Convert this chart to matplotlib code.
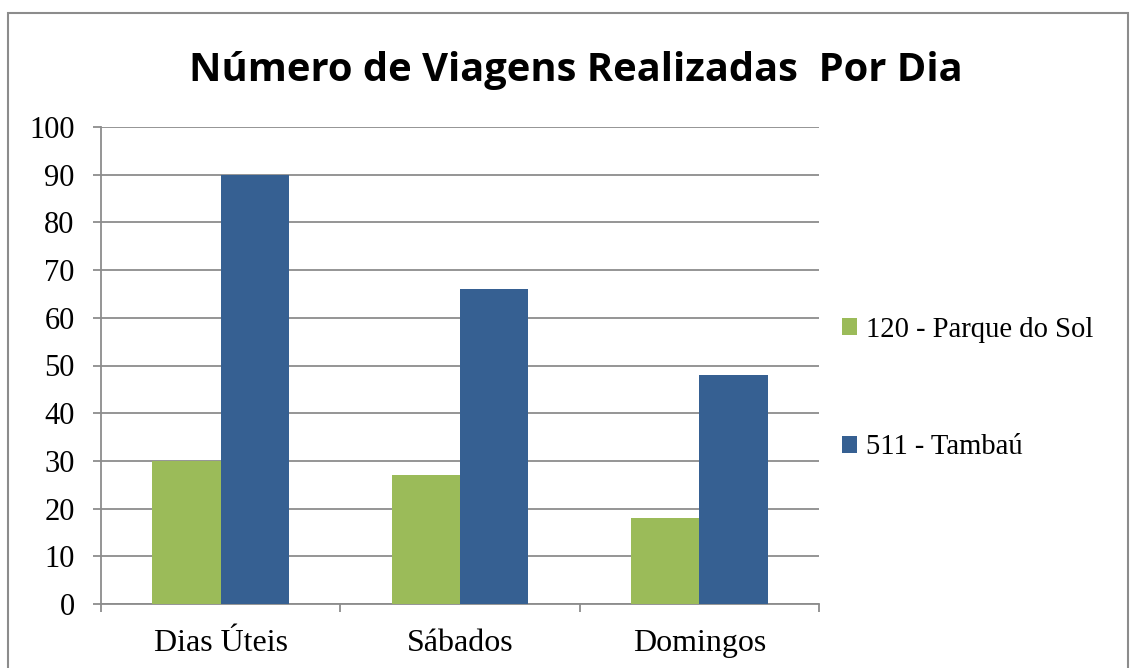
import matplotlib
matplotlib.use("Agg")
import matplotlib.pyplot as plt
import numpy as np
from matplotlib.patches import Rectangle

categories = ["Dias Úteis", "Sábados", "Domingos"]
series_names = ["120 - Parque do Sol", "511 - Tambaú"]
parque_do_sol = [30, 27, 18]
tambau = [90, 66, 48]
yticks = list(range(0, 101, 10))

W, H = 1130, 668
fig = plt.figure(figsize=(W / 100, H / 100), dpi=100)
fig.patch.set_facecolor("white")

# outer border
fig.patches.append(Rectangle((8 / W, -0.01), (1128 - 8) / W, (H - 13) / H + 0.01,
                             transform=fig.transFigure, fill=False,
                             edgecolor="#8c8c8c", linewidth=1.5))

ax = fig.add_axes([101 / W, 1 - 604 / H, (819 - 101) / W, (604 - 127) / H])
x = np.arange(len(categories))
bw = 0.285
green = "#9BBB59"
blue = "#366092"
ax.bar(x - bw / 2, parque_do_sol, width=bw, color=green, label=series_names[0], zorder=3)
ax.bar(x + bw / 2, tambau, width=bw, color=blue, label=series_names[1], zorder=3)

ax.set_xlim(-0.5, len(categories) - 0.5)
ax.set_ylim(0, 100)
ax.set_yticks(yticks)
ax.yaxis.grid(True, color="#8c8c8c", linewidth=1.3, zorder=0)
ax.set_axisbelow(True)

serif = ["Liberation Serif", "DejaVu Serif"]
ax.set_yticklabels([str(v) for v in yticks], fontsize=22, family=serif)
ax.set_xticks(x)
ax.set_xticklabels(categories, fontsize=23, family=serif)
ax.tick_params(axis="x", length=0, pad=18)
ax.set_xticks(np.arange(-0.5, len(categories)), minor=True)
ax.tick_params(axis="x", which="minor", length=6, direction="out", color="#8c8c8c", width=1.3)
ax.tick_params(axis="y", length=6, direction="out", color="#8c8c8c", width=1.3, pad=13)

for s in ["top", "right"]:
    ax.spines[s].set_visible(False)
for s in ["left", "bottom"]:
    ax.spines[s].set_color("#8c8c8c")
    ax.spines[s].set_linewidth(1.3)

fig.text(576 / W, 1 - 70 / H, "Número de Viagens Realizadas  Por Dia",
         ha="center", va="center", fontsize=28.7, fontweight="bold",
         family=["Open Sans", "DejaVu Sans"])

leg = fig.legend(loc="upper left", bbox_to_anchor=(816 / W, 1 - 291 / H),
                 frameon=False, prop={"family": serif, "size": 20.6},
                 handlelength=0.55, handleheight=0.55, handletextpad=0.3,
                 labelspacing=3.2)

fig.savefig("out.png", dpi=100, facecolor="white")
